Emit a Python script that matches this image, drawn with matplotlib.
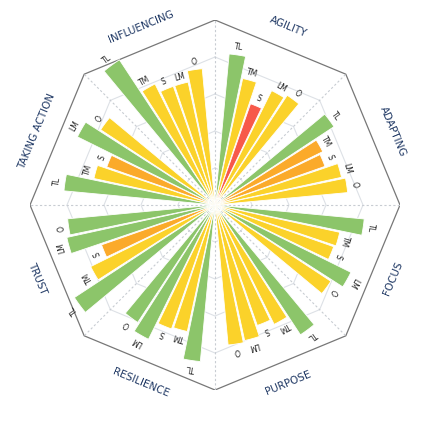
import numpy as np
import matplotlib.pyplot as plt

categories = ['AGILITY', 'ADAPTING', 'FOCUS', 'PURPOSE',
              'RESILIENCE', 'TRUST', 'TAKING ACTION', 'INFLUENCING']
groups = ['TL', 'TM', 'S', 'LM', 'O']

# values per category, order TL, TM, S, LM, O (scale 0-100)
agility = [82, 70, 58, 69, 71]
adapting = [77, 65, 63, 70, 72]
focus = [81, 69, 68, 82, 75]
purpose = [84, 72, 69, 75, 76]
resilience = [85, 70, 71, 81, 76]
trust = [91, 75, 65, 82, 80]
taking_action = [82, 67, 62, 83, 74]
influencing = [94, 73, 68, 68, 74]

# colour band per bar: g=green, y=yellow, o=orange, r=red
bands = [
    'gyryy',
    'gooyy',
    'gyygy',
    'gyyyy',
    'gyygg',
    'gyogg',
    'gyogy',
    'gyyyy',
]
all_values = [agility, adapting, focus, purpose, resilience, trust, taking_action, influencing]

COLORS = {'g': '#8CC56A', 'y': '#FBD22A', 'o': '#FBAA2A', 'r': '#F7594A'}
NAVY = '#1F3864'

fig = plt.figure(figsize=(4.33, 4.22), dpi=100)
cx, cy, R = 215, 205, 185
rect = [(cx - R) / 433, (422 - cy - R) / 422, 2 * R / 433, 2 * R / 422]

# background grid (cartesian overlay)
bg = fig.add_axes(rect)
bg.set_xlim(-100, 100)
bg.set_ylim(-100, 100)
bg.axis('off')
vert = np.deg2rad(np.arange(0, 361, 45))
for r in [20, 40, 60, 80]:
    bg.plot(r * np.sin(vert), r * np.cos(vert), color='#dde1e6', lw=0.8, zorder=0)
bg.plot(100 * np.sin(vert), 100 * np.cos(vert), color='#777777', lw=0.9, zorder=0)
for a in vert[:-1]:
    bg.plot([0, 100 * np.sin(a)], [0, 100 * np.cos(a)], color='#c8ccd2',
            lw=0.8, ls=(0, (2, 2)), zorder=0)

# bars
ax = fig.add_axes(rect, projection='polar')
ax.patch.set_alpha(0)
ax.set_theta_zero_location('N')
ax.set_theta_direction(-1)
ax.set_ylim(0, 100)
ax.axis('off')

offsets = np.array([-14, -7, 0, 7, 14])
width = np.deg2rad(6.3)
for i, (cat, vals) in enumerate(zip(categories, all_values)):
    mid = 22.5 + 45 * i
    for j, v in enumerate(vals):
        th = mid + offsets[j]
        ax.bar(np.deg2rad(th), v, width=width, color=COLORS[bands[i][j]],
               edgecolor='white', linewidth=0.6)
        ax.text(np.deg2rad(th), v + 4, groups[j], rotation=-th,
                ha='center', va='center', fontsize=5.5, color='#222222',
                rotation_mode='anchor')
    rot = -mid
    if 90 < mid < 270:
        rot += 180
    ax.text(np.deg2rad(mid), 104, cat, rotation=rot, ha='center', va='center',
            fontsize=7.5, color=NAVY, rotation_mode='anchor', clip_on=False)

fig.savefig('out.png', dpi=100)
